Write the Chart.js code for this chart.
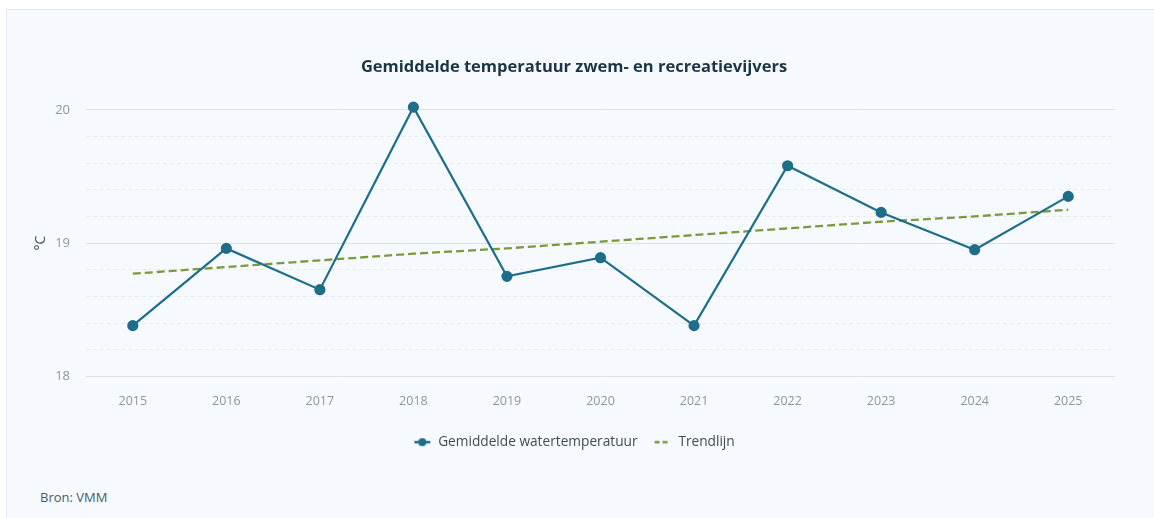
<!DOCTYPE html>
<html>
<head>
<meta charset="utf-8">
<title>Gemiddelde temperatuur zwem- en recreatievijvers</title>
<script src="https://cdn.jsdelivr.net/npm/chart.js@4/dist/chart.umd.min.js"></script>
<style>
  body { margin:0; background:#fff; font-family:"Open Sans", sans-serif; overflow:hidden; }
  .card { position:absolute; left:6px; top:9px; width:1170px; height:530px; background:#f6f9fd; border:1px solid #e4eaef; }
  .wrap { position:absolute; left:0; top:0; width:1154px; height:470px; }
  .bron { position:absolute; left:40px; top:488px; font-size:13px; color:#4d5a63; }
</style>
</head>
<body>
<div class="card"></div>
<div class="wrap"><canvas id="mycanvas"></canvas></div>
<div class="bron">Bron: VMM</div>

<script>
var jaren = ['2015','2016','2017','2018','2019','2020','2021','2022','2023','2024','2025'];
var watertemp = [18.38, 18.96, 18.65, 20.02, 18.75, 18.89, 18.38, 19.58, 19.23, 18.95, 19.35];
var trendlijn = [18.77, 18.82, 18.87, 18.92, 18.96, 19.01, 19.06, 19.11, 19.16, 19.20, 19.25];

var blauw = '#1e6e8a';
var groen = '#7b9a3c';

// kleine icoontjes voor de legende
function lijnIcoon(kleur, punt, streep) {
    var c = document.createElement('canvas');
    c.width = 18; c.height = 10;
    var g = c.getContext('2d');
    g.strokeStyle = kleur;
    g.lineWidth = 2.5;
    if (streep) g.setLineDash([5, 3]);
    g.beginPath();
    g.moveTo(1, 5); g.lineTo(17, 5);
    g.stroke();
    if (punt) {
        g.fillStyle = kleur;
        g.beginPath();
        g.arc(9, 5, 4, 0, Math.PI * 2);
        g.fill();
    }
    return c;
}
var icoonTemp = lijnIcoon(blauw, true, false);
var icoonTrend = lijnIcoon(groen, false, true);

function isHeel(v) {
    return Math.abs(v - Math.round(v)) < 0.001;
}

var chartdata = {
    labels: jaren,
    datasets: [
        {
            label: 'Gemiddelde watertemperatuur',
            data: watertemp,
            borderColor: blauw,
            backgroundColor: blauw,
            borderWidth: 2.2,
            pointRadius: 4.5,
            pointHoverRadius: 5,
            tension: 0
        },
        {
            label: 'Trendlijn',
            data: trendlijn,
            borderColor: groen,
            backgroundColor: groen,
            borderWidth: 2.3,
            borderDash: [8, 4],
            pointRadius: 0,
            tension: 0
        }
    ]
};

var ctx = document.getElementById('mycanvas');
var lineGraph = new Chart(ctx, {
    type: 'line',
    data: chartdata,
    options: {
        responsive: true,
        maintainAspectRatio: false,
        animation: false,
        clip: false,
        layout: { padding: { left: 33, right: 39, top: 0, bottom: 11 } },
        plugins: {
            title: {
                display: true,
                text: 'Gemiddelde temperatuur zwem- en recreatievijvers',
                color: '#1c3544',
                font: { family: 'Open Sans', size: 16.5, weight: 'bold' },
                padding: { top: 57, bottom: 33 }
            },
            legend: {
                position: 'bottom',
                labels: {
                    usePointStyle: true,
                    pointStyleWidth: 18,
                    padding: 16,
                    color: '#3f4d57',
                    font: { family: 'Open Sans', size: 13.7 },
                    generateLabels: function(chart) {
                        var items = Chart.defaults.plugins.legend.labels.generateLabels(chart);
                        items[0].pointStyle = icoonTemp;
                        items[1].pointStyle = icoonTrend;
                        return items;
                    }
                }
            },
            tooltip: { enabled: false }
        },
        scales: {
            x: {
                offset: true,
                grid: { display: false },
                border: { display: false },
                ticks: {
                    color: '#8a98a3',
                    font: { family: 'Open Sans', size: 12.5 },
                    padding: 10
                },
                afterFit: function(scale) { scale.height = 43; }
            },
            y: {
                min: 18,
                max: 20,
                title: {
                    display: true,
                    text: '°C',
                    color: '#3f5261',
                    font: { family: 'Open Sans', size: 14 },
                    padding: 0
                },
                ticks: {
                    stepSize: 0.2,
                    autoSkip: false,
                    color: '#8a98a3',
                    font: { family: 'Open Sans', size: 13 },
                    padding: 16,
                    callback: function(v) { return isHeel(v) ? Math.round(v) : ''; }
                },
                grid: {
                    drawTicks: false,
                    color: function(c) { return isHeel(c.tick.value) ? '#dbe1e6' : '#e6ebef'; },
                    lineWidth: 1
                },
                border: {
                    display: false,
                    dash: function(c) {
                        if (c.tick && !isHeel(c.tick.value)) return [4, 3];
                        return [];
                    }
                },
                afterFit: function(scale) { scale.width = 53; }
            }
        }
    }
});
</script>
</body>
</html>
